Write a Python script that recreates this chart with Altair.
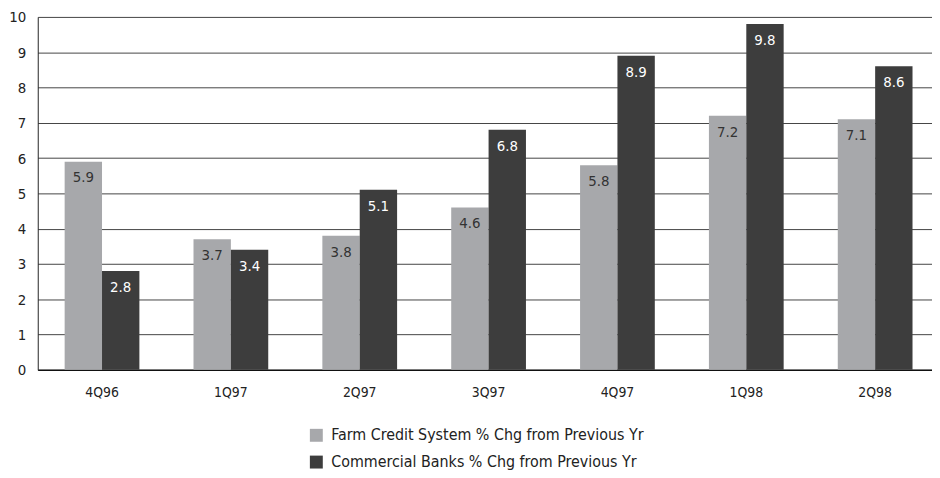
import altair as alt
import pandas as pd

quarters = ["4Q96", "1Q97", "2Q97", "3Q97", "4Q97", "1Q98", "2Q98"]
farm_credit = [5.9, 3.7, 3.8, 4.6, 5.8, 7.2, 7.1]
commercial_banks = [2.8, 3.4, 5.1, 6.8, 8.9, 9.8, 8.6]
series_names = [
    "Farm Credit System % Chg from Previous Yr",
    "Commercial Banks % Chg from Previous Yr",
]
colors = ["#a7a8ab", "#3d3d3d"]
y_ticks = list(range(0, 11))

rows = []
for q, f, b in zip(quarters, farm_credit, commercial_banks):
    rows.append({"q": q, "s": series_names[0], "v": f})
    rows.append({"q": q, "s": series_names[1], "v": b})
df = pd.DataFrame(rows)

FONT = "Liberation Sans Narrow, DejaVu Sans Condensed, Roboto Condensed, Roboto, sans-serif"

x_enc = alt.X(
    "q:N",
    sort=quarters,
    scale=alt.Scale(paddingInner=0.42, paddingOuter=0.18, align=0.58, round=False),
    axis=alt.Axis(
        title=None, labelAngle=0, ticks=False, domain=True, domainColor="#111",
        domainWidth=1.5, labelPadding=16, labelFontSize=14, labelFont=FONT,
        labelColor="#222",
    ),
)
xo_enc = alt.XOffset(
    "s:N", sort=series_names,
    scale=alt.Scale(domain=series_names, paddingInner=0, paddingOuter=0),
)
y_enc = alt.Y(
    "v:Q",
    scale=alt.Scale(domain=[0, 10], nice=False),
    axis=alt.Axis(
        title=None, values=y_ticks, grid=True, gridColor="#444", gridWidth=1,
        ticks=False, domain=True, domainColor="#222", labelPadding=12,
        labelFontSize=15, labelFont=FONT, labelColor="#222",
    ),
)

bars = alt.Chart(df).mark_bar().encode(
    x=x_enc,
    xOffset=xo_enc,
    y=y_enc,
    color=alt.Color(
        "s:N",
        sort=series_names,
        scale=alt.Scale(domain=series_names, range=colors),
        legend=alt.Legend(
            title=None, orient="none", legendX=273, legendY=414,
            direction="vertical", symbolType="square", symbolSize=170,
            symbolStrokeWidth=0, labelFontSize=16, labelFont=FONT,
            labelColor="#222", rowPadding=11, labelOffset=7, labelLimit=600,
        ),
    ),
)

text_light = alt.Chart(df).mark_text(
    dy=16, fontSize=15, font=FONT, color="#333", baseline="middle"
).encode(
    x=x_enc, xOffset=xo_enc, y=y_enc, text=alt.Text("v:Q", format=".1f")
).transform_filter(alt.datum.s == series_names[0])

text_dark = alt.Chart(df).mark_text(
    dy=16, fontSize=15, font=FONT, color="#ffffff", baseline="middle"
).encode(
    x=x_enc, xOffset=xo_enc, y=y_enc, text=alt.Text("v:Q", format=".1f")
).transform_filter(alt.datum.s == series_names[1])

chart = (
    alt.layer(bars, text_light, text_dark)
    .properties(
        width=902,
        height=356,
        autosize=alt.AutoSizeParams(type="none"),
        padding={"left": 30, "top": 7, "right": 0, "bottom": 99},
    )
    .configure_view(stroke=None)
)

chart.save("out.html", embed_options={"renderer": "svg", "actions": False})
